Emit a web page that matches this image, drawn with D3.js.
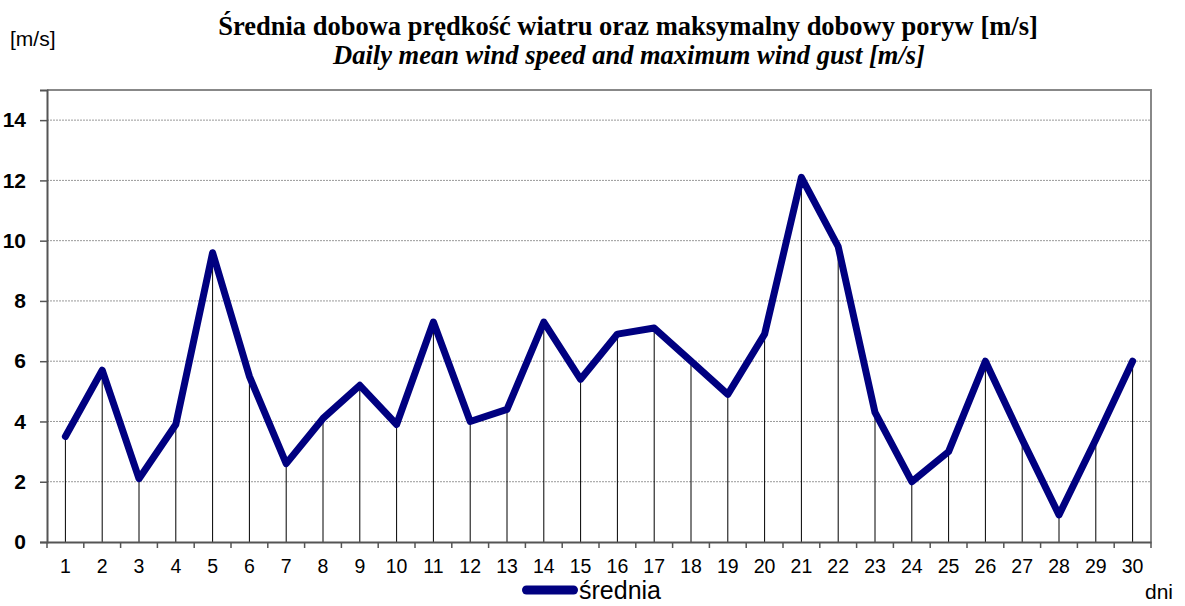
<!DOCTYPE html>
<meta charset="utf-8">
<style>

body {
  margin: 0;
  background: #fff;
}

.title {
  font-family: "Liberation Serif", "Times New Roman", serif;
  font-weight: bold;
  text-anchor: middle;
  font-size: 26.5px;
}

.label {
  font-family: "Liberation Sans", Arial, sans-serif;
}

.grid line {
  stroke: #999;
  stroke-dasharray: 2,1;
  stroke-width: 1px;
}

.drop {
  stroke: #000;
  stroke-width: 1px;
}

.series {
  fill: none;
  stroke: #000080;
  stroke-width: 7px;
  stroke-linejoin: round;
  stroke-linecap: round;
}

</style>
<svg width=1185 height=606></svg>
<script src='https://cdn.jsdelivr.net/npm/d3@7'></script>
<script>

// days of the month and daily mean wind speed [m/s]
const days = d3.range(1, 31);
const meanSpeed = [3.5, 5.7, 2.1, 3.9, 9.6, 5.5, 2.6, 4.1, 5.2, 3.9,
                   7.3, 4.0, 4.4, 7.3, 5.4, 6.9, 7.1, 6.0, 4.9, 6.9,
                   12.1, 9.8, 4.3, 2.0, 3.0, 6.0, 3.4, 0.9, 3.4, 6.0];
const yTicks = [0, 2, 4, 6, 8, 10, 12, 14];

const plotLeft = 47, plotRight = 1151, plotTop = 90, plotBottom = 542;

let svg = d3.select("svg");

let x = d3.scaleBand().domain(days).range([plotLeft, plotRight]);
let y = d3.scaleLinear().domain([0, 15]).range([plotBottom, plotTop]);

// titles
svg.append("text").attr("class", "title")
  .attr("x", 628).attr("y", 35)
  .text("Średnia dobowa prędkość wiatru oraz maksymalny dobowy poryw [m/s]");
svg.append("text").attr("class", "title")
  .attr("x", 629).attr("y", 64)
  .style("font-style", "italic")
  .text("Daily mean wind speed and maximum wind gust [m/s]");

svg.append("text").attr("class", "label")
  .attr("x", 10).attr("y", 46)
  .style("font-size", "21px")
  .text("[m/s]");

// grid
svg.append("g").attr("class", "grid")
  .selectAll("line")
  .data(yTicks.filter(d => d > 0))
  .enter().append("line")
    .attr("x1", plotLeft).attr("x2", plotRight)
    .attr("y1", d => y(d)).attr("y2", d => y(d));

// frame (top and right)
svg.append("path")
  .attr("d", "M" + plotLeft + "," + plotTop + "H" + plotRight + "V" + plotBottom)
  .attr("fill", "none")
  .attr("stroke", "#888")
  .attr("stroke-width", 2);

// drop lines
svg.append("g").selectAll("line")
  .data(days)
  .enter().append("line")
    .attr("class", "drop")
    .attr("x1", d => x(d) + x.bandwidth() / 2)
    .attr("x2", d => x(d) + x.bandwidth() / 2)
    .attr("y1", plotBottom)
    .attr("y2", (d, i) => y(meanSpeed[i]));

// y axis
let yAxis = svg.append("g")
  .attr("transform", "translate(" + plotLeft + ",0)")
  .call(d3.axisLeft(y).tickValues(yTicks).tickSize(7).tickPadding(14));
yAxis.select(".domain").attr("stroke", "#555").attr("stroke-width", 2);
yAxis.selectAll(".tick line").attr("stroke", "#555").attr("stroke-width", 1.5);
yAxis.selectAll("text")
  .attr("class", "label")
  .style("font-size", "21px")
  .style("font-weight", "bold")
  .attr("fill", "#000");

// x axis
let xAxis = svg.append("g")
  .attr("transform", "translate(0," + plotBottom + ")")
  .call(d3.axisBottom(x).tickSize(0).tickPadding(17));
xAxis.select(".domain").attr("stroke", "#555").attr("stroke-width", 2);
xAxis.selectAll("text")
  .attr("class", "label")
  .style("font-size", "19.5px")
  .attr("fill", "#000");
xAxis.selectAll(".bound")
  .data(d3.range(0, 31))
  .enter().append("line")
    .attr("class", "bound")
    .attr("x1", d => plotLeft + d * x.bandwidth())
    .attr("x2", d => plotLeft + d * x.bandwidth())
    .attr("y1", 0).attr("y2", 6)
    .attr("stroke", "#555").attr("stroke-width", 1.5);

// series line
let line = d3.line()
  .x((d, i) => x(days[i]) + x.bandwidth() / 2)
  .y(d => y(d));

svg.append("path")
  .datum(meanSpeed)
  .attr("class", "series")
  .attr("d", line);

// legend
svg.append("line")
  .attr("x1", 526.5).attr("x2", 573.5)
  .attr("y1", 590).attr("y2", 590)
  .attr("stroke", "#000080")
  .attr("stroke-width", 9)
  .attr("stroke-linecap", "round");
svg.append("text").attr("class", "label")
  .attr("x", 579).attr("y", 599)
  .style("font-size", "25px")
  .text("średnia");

svg.append("text").attr("class", "label")
  .attr("x", 1145).attr("y", 599)
  .style("font-size", "21px")
  .text("dni");

</script>
